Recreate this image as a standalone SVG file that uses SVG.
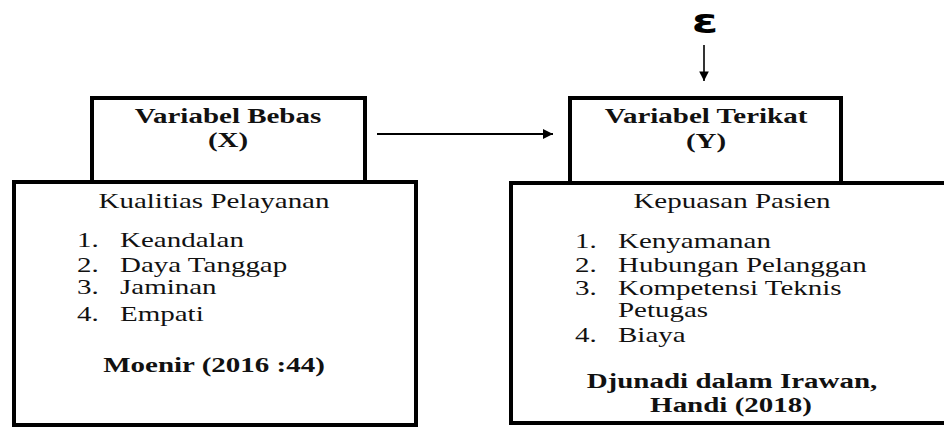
<svg xmlns="http://www.w3.org/2000/svg" width="944" height="428" viewBox="0 0 944 428">
<style>
.box{fill:#fff;stroke:#000;stroke-width:4}
.t{font-family:"Liberation Serif","Times New Roman",serif;font-size:20px;fill:#111}
.b{font-weight:bold}
.m{text-anchor:middle}
.eps{font-family:"DejaVu Sans",sans-serif;font-weight:bold;font-size:34px;text-anchor:middle;fill:#000}
.c{stroke:#000;fill:none}
</style>
<defs>
<marker id="ah" viewBox="0 0 10 10" refX="10" refY="5" markerWidth="7" markerHeight="5" markerUnits="strokeWidth" orient="auto"><path d="M0,0 L10,5 L0,10 Z" fill="#000"/></marker>
<marker id="ah2" viewBox="0 0 10 10" refX="10" refY="5" markerWidth="6" markerHeight="8" markerUnits="strokeWidth" orient="auto"><path d="M0,0 L10,5 L0,10 Z" fill="#000"/></marker>
</defs>
<g id="epsilon">
<text class="eps" transform="translate(705,33) scale(1.4,1)">ε</text>
</g>
<g id="connectors">
<line class="c" x1="377" y1="134" x2="553" y2="134" stroke-width="2" marker-end="url(#ah)"/>
<line class="c" x1="704" y1="45" x2="704" y2="81" stroke-width="1.6" marker-end="url(#ah2)"/>
</g>
<g id="var-x">
<rect class="box" x="92" y="98" width="273" height="90"/>
<text class="t b m" transform="translate(228,123) scale(1.45,1)">Variabel Bebas</text>
<text class="t b m" transform="translate(228,147) scale(1.45,1)">(X)</text>
</g>
<g id="kualitas">
<rect class="box" x="14" y="182" width="402" height="243"/>
<text class="t m" transform="translate(214,208) scale(1.45,1)">Kualitias Pelayanan</text>
<text class="t" transform="translate(77,247) scale(1.45,1)">1.</text>
<text class="t" transform="translate(120,247) scale(1.45,1)">Keandalan</text>
<text class="t" transform="translate(77,272) scale(1.45,1)">2.</text>
<text class="t" transform="translate(120,272) scale(1.45,1)">Daya Tanggap</text>
<text class="t" transform="translate(77,294) scale(1.45,1)">3.</text>
<text class="t" transform="translate(120,294) scale(1.45,1)">Jaminan</text>
<text class="t" transform="translate(77,321) scale(1.45,1)">4.</text>
<text class="t" transform="translate(120,321) scale(1.45,1)">Empati</text>
<text class="t b m" transform="translate(214,372) scale(1.45,1)">Moenir (2016 :44)</text>
</g>
<g id="var-y">
<rect class="box" x="570" y="98" width="271" height="90"/>
<text class="t b m" transform="translate(706,123) scale(1.45,1)">Variabel Terikat</text>
<text class="t b m" transform="translate(706,148) scale(1.45,1)">(Y)</text>
</g>
<g id="kepuasan">
<rect class="box" x="511" y="183" width="440" height="240"/>
<text class="t m" transform="translate(732,208) scale(1.45,1)">Kepuasan Pasien</text>
<text class="t" transform="translate(575,248) scale(1.45,1)">1.</text>
<text class="t" transform="translate(618,248) scale(1.45,1)">Kenyamanan</text>
<text class="t" transform="translate(575,272) scale(1.45,1)">2.</text>
<text class="t" transform="translate(618,272) scale(1.45,1)">Hubungan Pelanggan</text>
<text class="t" transform="translate(575,295) scale(1.45,1)">3.</text>
<text class="t" transform="translate(618,295) scale(1.45,1)">Kompetensi Teknis</text>
<text class="t" transform="translate(618,317) scale(1.45,1)">Petugas</text>
<text class="t" transform="translate(575,342) scale(1.45,1)">4.</text>
<text class="t" transform="translate(618,342) scale(1.45,1)">Biaya</text>
<text class="t b m" transform="translate(732,388) scale(1.45,1)">Djunadi dalam Irawan,</text>
<text class="t b m" transform="translate(731,412) scale(1.45,1)">Handi (2018)</text>
</g>
</svg>
